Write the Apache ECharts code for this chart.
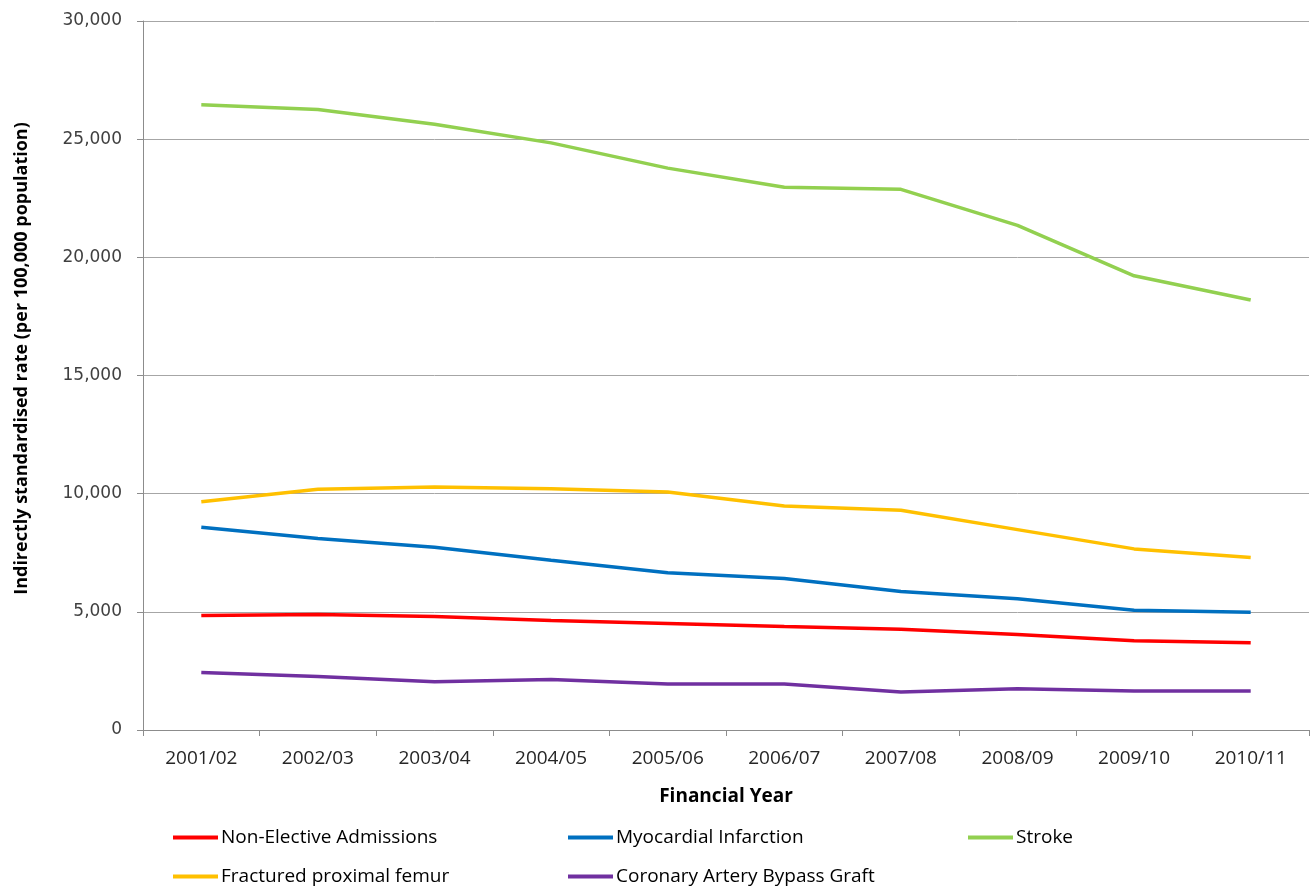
<!DOCTYPE html>
<html>
<head>
<meta charset="utf-8">
<script src="https://cdn.jsdelivr.net/npm/echarts@6/dist/echarts.min.js"></script>
<style>html,body{margin:0;padding:0;background:#fff;}#c{width:1312px;height:886px;}</style>
</head>
<body>
<div id="c"></div>
<script>
const categories = ['2001/02','2002/03','2003/04','2004/05','2005/06','2006/07','2007/08','2008/09','2009/10','2010/11'];
const nonElective = [4845, 4887, 4803, 4634, 4507, 4380, 4268, 4043, 3775, 3690];
const myocardial = [8578, 8099, 7733, 7184, 6649, 6410, 5860, 5550, 5070, 4986];
const stroke = [26453, 26254, 25627, 24843, 23775, 22963, 22878, 21353, 19217, 18191];
const femur = [9662, 10183, 10282, 10211, 10070, 9479, 9296, 8479, 7663, 7297];
const cabg = [2437, 2268, 2043, 2141, 1944, 1944, 1606, 1747, 1648, 1648];

const FONT = '"Open Sans", "Liberation Sans", sans-serif';
const chart = echarts.init(document.getElementById('c'), null, {renderer: 'canvas'});

function mk(name, data, color) {
  return {name, type: 'line', data, symbol: 'none', smooth: false,
    lineStyle: {color, width: 3.5}, itemStyle: {color}, z: 3};
}
function lg(name, left, top) {
  return {data: [name], left, top, itemWidth: 45, itemHeight: 4, icon: 'rect',
    itemGap: 0, padding: 0,
    textStyle: {fontFamily: FONT, fontSize: 19, color: '#000', padding: [0, 0, 0, -2]}};
}

chart.setOption({
  animation: false,
  backgroundColor: '#fff',
  grid: {left: 143, right: 3, top: 21, bottom: 156, containLabel: false},
  legend: [
    lg('Non-Elective Admissions', 173, 828),
    lg('Myocardial Infarction', 568, 828),
    lg('Stroke', 968, 828),
    lg('Fractured proximal femur', 173, 867),
    lg('Coronary Artery Bypass Graft', 568, 867)
  ],
  xAxis: {
    type: 'category', data: categories, boundaryGap: true,
    name: 'Financial Year', nameLocation: 'middle', nameGap: 57,
    nameTextStyle: {fontFamily: FONT, fontSize: 19, fontWeight: 'bold', color: '#000'},
    axisLine: {lineStyle: {color: '#8c8c8c', width: 1}},
    axisTick: {show: true, alignWithLabel: false, length: 6, lineStyle: {color: '#8c8c8c'}},
    axisLabel: {fontFamily: FONT, fontSize: 19, color: '#262626', margin: 19}
  },
  yAxis: {
    type: 'value', min: 0, max: 30000, interval: 5000,
    name: 'Indirectly standardised rate (per 100,000 population)',
    nameLocation: 'middle', nameGap: 112, nameRotate: 90,
    nameTextStyle: {fontFamily: FONT, fontSize: 18, fontWeight: 'bold', color: '#000', padding: [0, 0, 0, 34]},
    axisLine: {show: true, lineStyle: {color: '#8c8c8c', width: 1}},
    axisTick: {show: true, length: 6, lineStyle: {color: '#8c8c8c'}},
    splitLine: {show: true, lineStyle: {color: '#a6a6a6', width: 1}},
    axisLabel: {fontFamily: '"DejaVu Sans", sans-serif', fontSize: 17, color: '#404040', margin: 21,
      formatter: v => v.toLocaleString('en-US')}
  },
  series: [
    mk('Non-Elective Admissions', nonElective, '#ff0000'),
    mk('Myocardial Infarction', myocardial, '#0070c0'),
    mk('Stroke', stroke, '#92d050'),
    mk('Fractured proximal femur', femur, '#ffc000'),
    mk('Coronary Artery Bypass Graft', cabg, '#7030a0')
  ]
});
</script>
</body>
</html>
